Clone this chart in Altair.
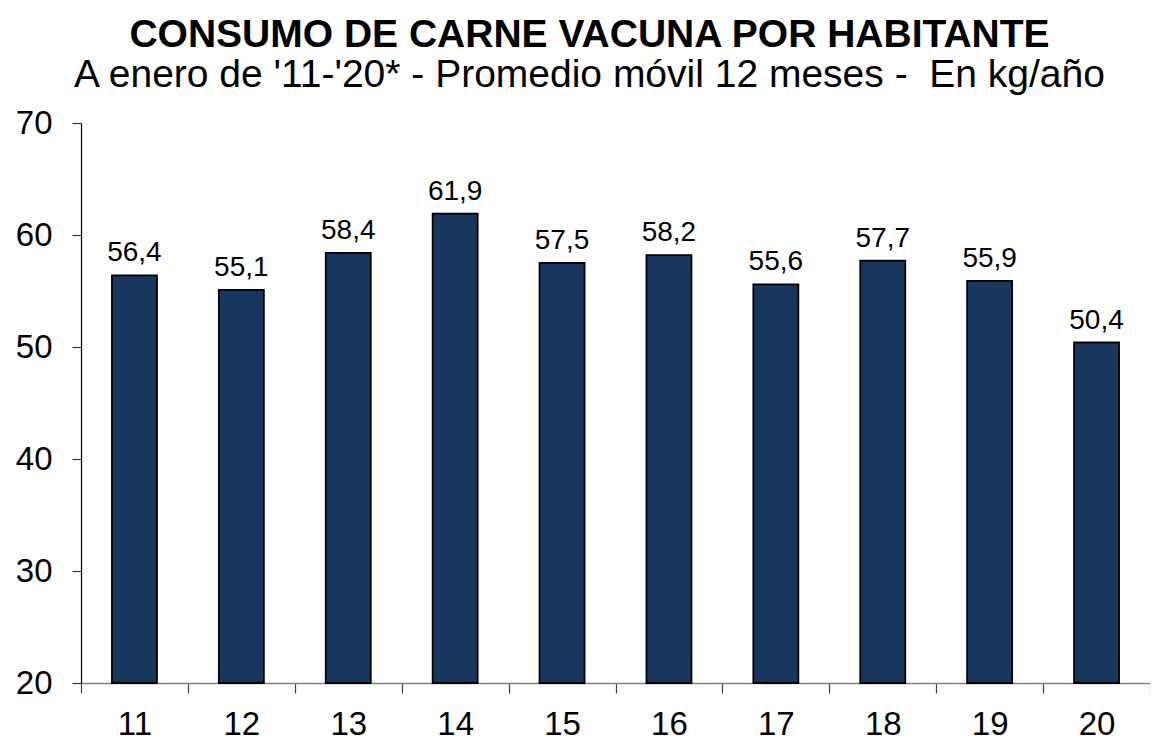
import altair as alt
import pandas as pd

years = ["11", "12", "13", "14", "15", "16", "17", "18", "19", "20"]
values = [56.4, 55.1, 58.4, 61.9, 57.5, 58.2, 55.6, 57.7, 55.9, 50.4]
y_ticks = [20, 30, 40, 50, 60, 70]

df = pd.DataFrame({"year": years, "value": values})

FONT = "Liberation Sans"

x_enc = alt.X(
    "year:N",
    sort=years,
    scale=alt.Scale(paddingInner=0, paddingOuter=0),
    axis=alt.Axis(
        title=None,
        labelAngle=0,
        labelFontSize=33,
        labelFont=FONT,
        labelColor="black",
        labelPadding=15,
        tickBand="extent",
        tickSize=10,
        tickColor="#404040",
        tickWidth=1.2,
        domainColor="#808080",
        domainWidth=1.5,
        grid=False,
    ),
)
y_enc = alt.Y(
    "value:Q",
    scale=alt.Scale(domain=[20, 70], nice=False, zero=False),
    axis=alt.Axis(
        title=None,
        values=y_ticks,
        labelFontSize=33,
        labelFont=FONT,
        labelColor="black",
        labelPadding=20,
        tickSize=9,
        tickColor="#404040",
        tickWidth=1.2,
        domainColor="black",
        domainWidth=1.2,
        grid=False,
    ),
)

bars = alt.Chart(df).mark_bar(
    size=45, color="#17375E", stroke="black", strokeWidth=1.8
).encode(
    x=x_enc,
    y=y_enc,
    y2=alt.datum(20),
)

labels = alt.Chart(df).transform_calculate(
    label="replace(format(datum.value, '.1f'), '.', ',')"
).mark_text(
    font=FONT, fontSize=28, color="black", baseline="alphabetic", dy=-14
).encode(
    x=x_enc,
    y=y_enc,
    text="label:N",
)

chart = (
    alt.layer(bars, labels)
    .properties(
        width=1069,
        height=560,
        autosize=alt.AutoSizeParams(type="none"),
        padding={"left": 73, "top": 115, "right": 0, "bottom": 57},
        view=alt.ViewBackground(stroke="transparent", strokeWidth=0),
        title=alt.TitleParams(
            text="CONSUMO DE CARNE VACUNA POR HABITANTE",
            subtitle="A enero de '11-'20* - Promedio móvil 12 meses -\u00a0 En kg/año",
            font=FONT,
            fontSize=39,
            fontWeight="bold",
            color="black",
            subtitleFont=FONT,
            subtitleFontSize=39,
            subtitleColor="black",
            subtitlePadding=1,
            anchor="middle",
            offset=12,
            dx=-26,
        ),
    )
    .configure_view(stroke="transparent", strokeWidth=0)
    .configure_axis(grid=False)
    .configure(background="white")
)

chart.save("out.html", embed_options={"renderer": "svg", "actions": False})
